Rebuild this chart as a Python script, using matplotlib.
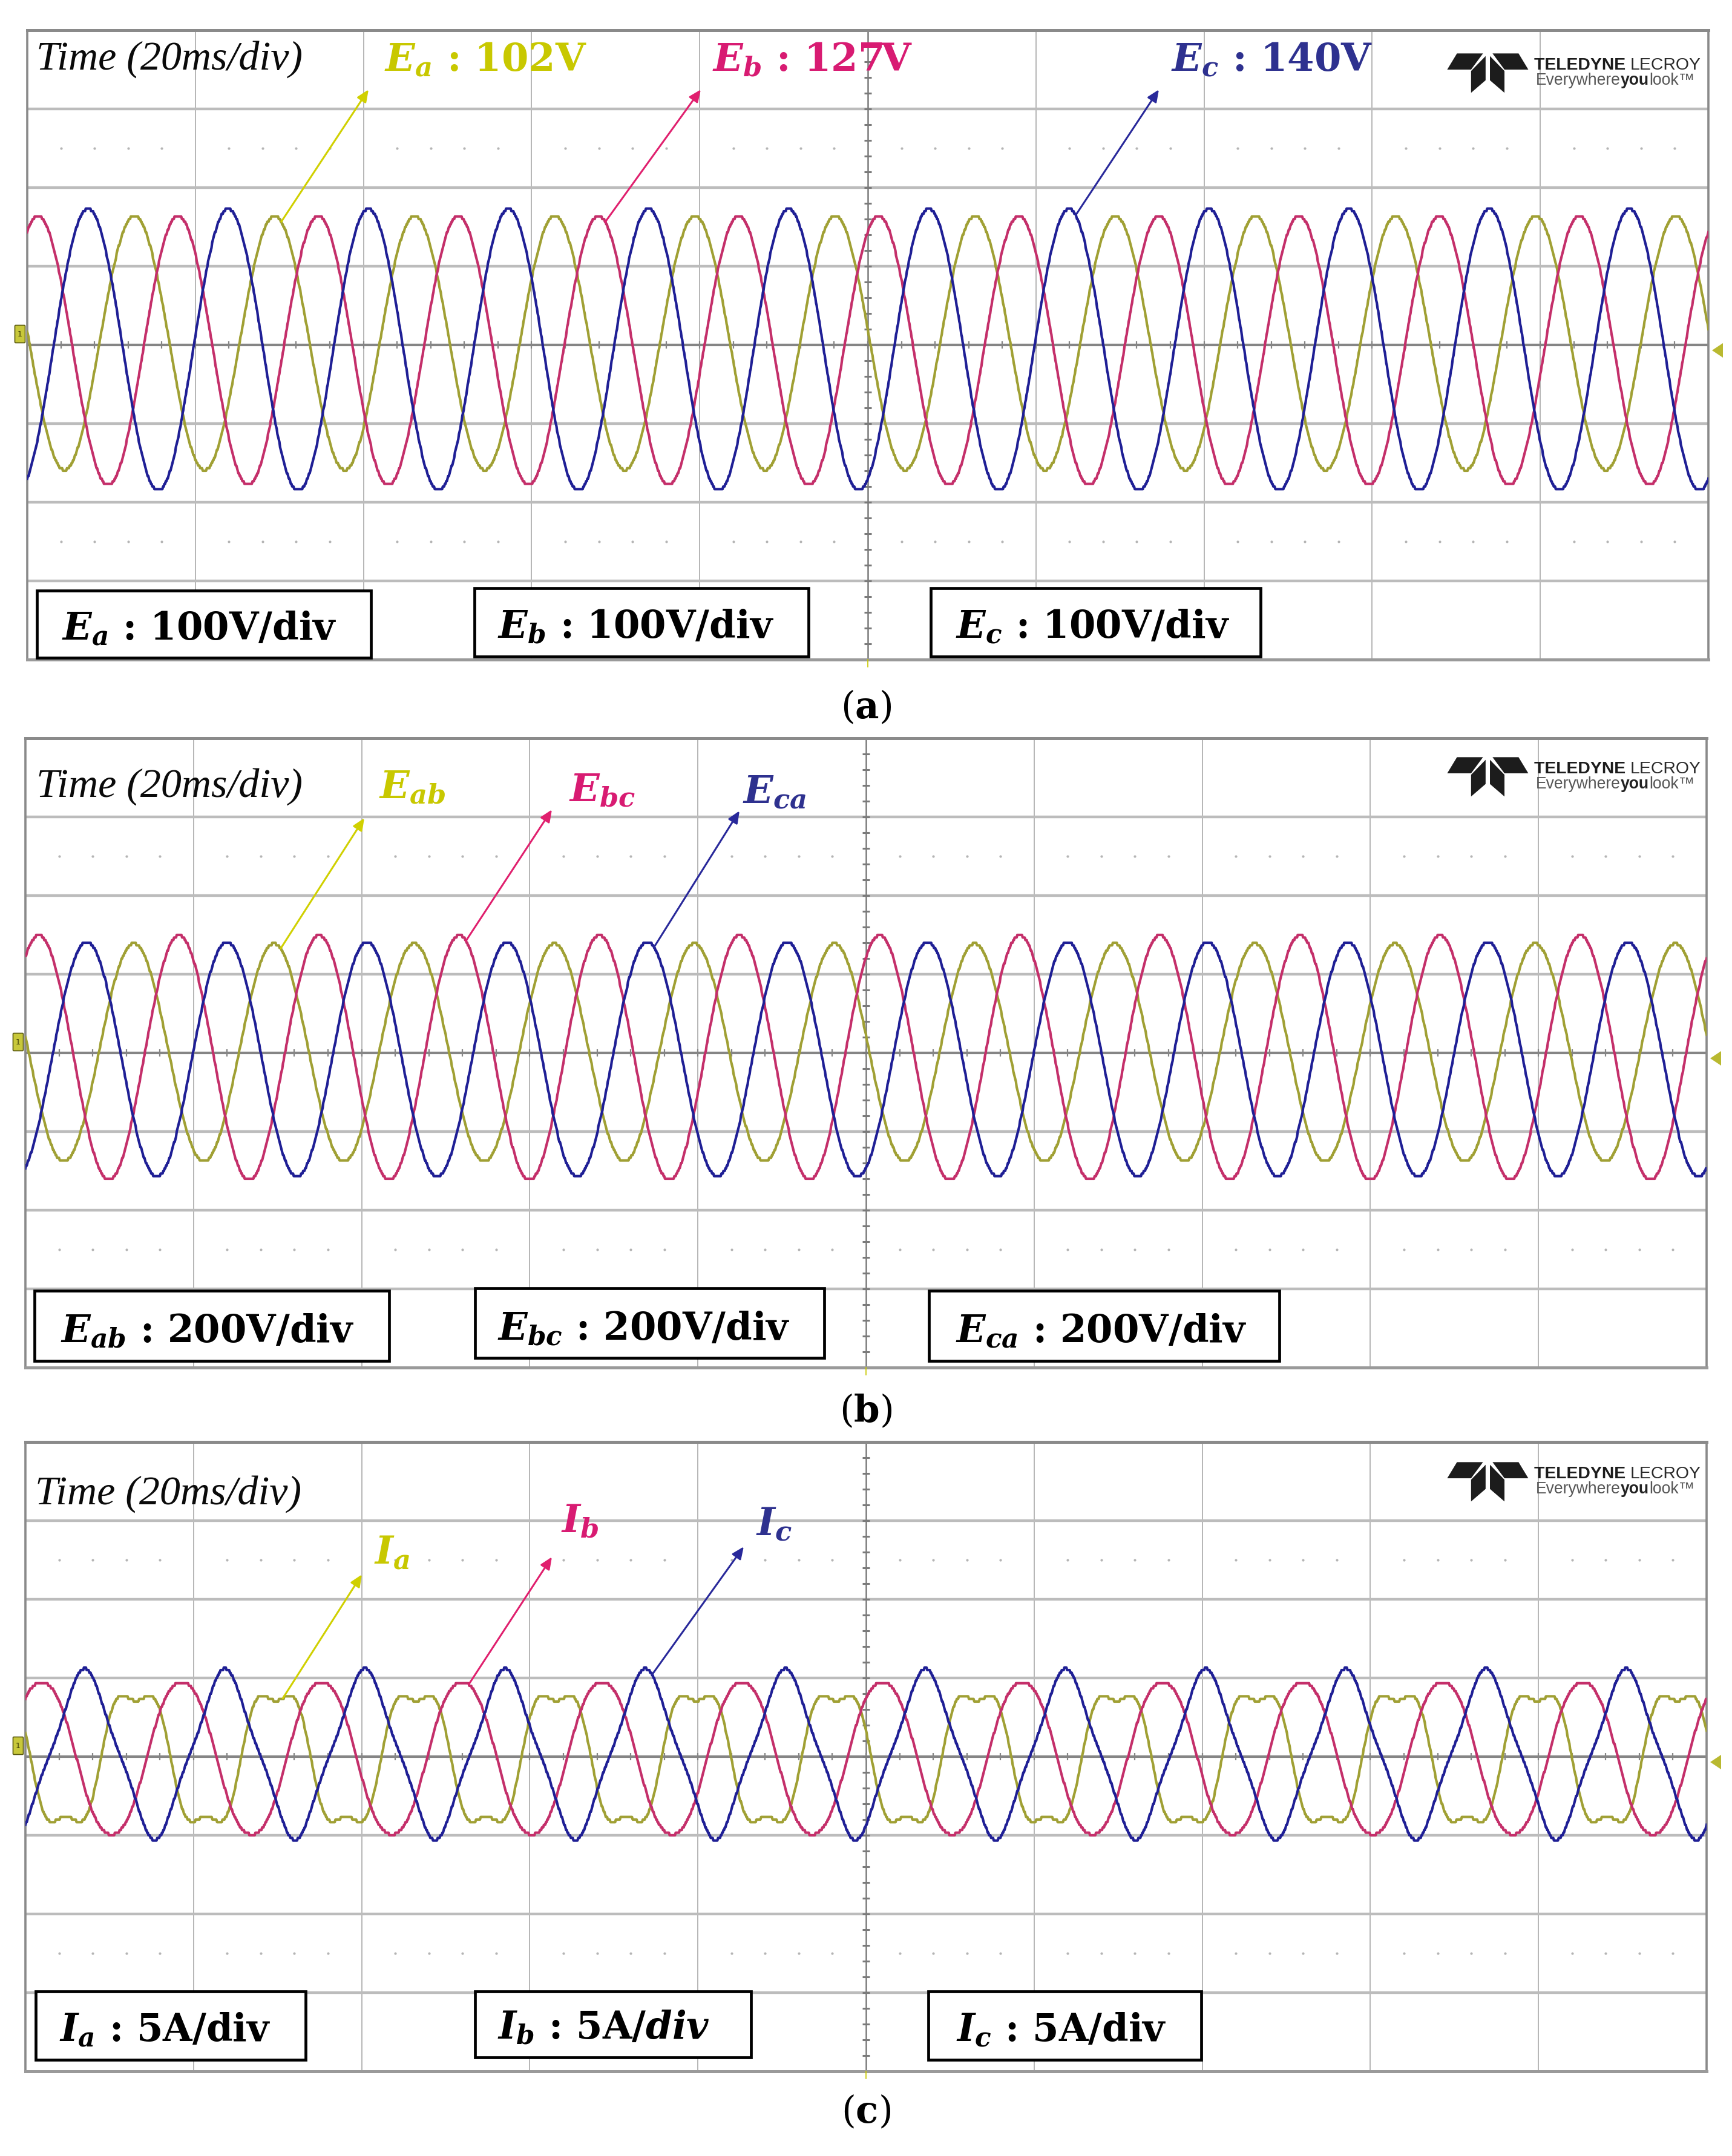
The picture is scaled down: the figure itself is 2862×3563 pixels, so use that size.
import numpy as np
import matplotlib
matplotlib.use('Agg')
import matplotlib.pyplot as plt
from matplotlib.patches import Rectangle, Polygon, FancyBboxPatch
from matplotlib import font_manager

## canvas
W, H, DPI = 2862, 3563, 100

plt.rcParams['mathtext.fontset'] = 'custom'
plt.rcParams['mathtext.it'] = 'DejaVu Serif:italic:bold'
plt.rcParams['mathtext.rm'] = 'DejaVu Serif:bold'
plt.rcParams['mathtext.bf'] = 'DejaVu Serif:bold'

## scope settings (all values in screen divisions, 10 x 8 divisions)
time_label = 'Time (20ms/div)'
period_div = 0.8335          # one mains cycle = 16.7 ms at 20 ms/div

## (a) phase voltages
a_names = ['E_a', 'E_b', 'E_c']
a_values = ['102V', '127V', '140V']
a_scales = ['100V/div', '100V/div', '100V/div']
a_peak = [0.638, 0.064, 0.362]      # first positive peak
a_amp = [1.615, 1.71, 1.79]
a_offset = [0.025, -0.07, -0.06]
a_h3 = [0.0, 0.0, 0.0]              # 3rd harmonic ratio
a_arrow_cycle = [1, 4, 7]

## (b) line voltages
b_names = ['E_{ab}', 'E_{bc}', 'E_{ca}']
b_values = ['', '', '']
b_scales = ['200V/div', '200V/div', '200V/div']
b_peak = [0.645, 0.080, 0.365]
b_amp = [1.385, 1.555, 1.49]
b_offset = [0.005, -0.06, -0.08]
b_h3 = [0.0, 0.0, 0.0]
b_arrow_cycle = [1, 3, 4]

## (c) line currents
c_names = ['I_a', 'I_b', 'I_c']
c_values = ['', '', '']
c_scales = ['5A/div', '5A/$div$', '5A/div']
c_peak = [0.657, 0.096, 0.353]
c_amp = [0.92, 1.0, 1.0]
c_offset = [-0.025, -0.02, 0.03]
c_h3 = [0.20, 0.03, -0.09]
c_arrow_cycle = [1, 3, 4]

captions = ['a', 'b', 'c']

## colours: yellow / magenta / blue channels
trace_colors = ['#a0a034', '#c42f6a', '#1f1f95']
label_colors = ['#c8c800', '#d81b72', '#2e318f']
arrow_colors = ['#d0d000', '#e0206e', '#28289a']

## layout (pixels)
screens = [(45, 50), (42, 1220), (42, 2383)]
screen_w, screen_h = 2778, 1040
caption_y = [1170, 2333, 3491]
time_xy = [(60, 115), (60, 1317), (58, 2486)]
label_xy = [[(635, 118), (1177, 118), (1935, 118)],
            [(626, 1320), (940, 1325), (1227, 1328)],
            [(618, 2585), (927, 2533), (1249, 2538)]]
head_xy = [[(609, 148), (1158, 148), (1915, 148)],
           [(602, 1352), (912, 1338), (1222, 1340)],
           [(598, 2602), (912, 2573), (1229, 2556)]]
boxes = [[(61, 976, 613, 1087), (784, 972, 1336, 1085), (1538, 972, 2083, 1085)],
         [(57, 2133, 643, 2249), (785, 2129, 1362, 2244), (1535, 2133, 2114, 2249)],
         [(59, 3291, 505, 3404), (785, 3291, 1241, 3400), (1534, 3291, 1985, 3404)]]
box_text_x = [[102, 822, 1579], [100, 822, 1579], [98, 822, 1580]]
box_base = [[1058, 1055, 1055], [2219, 2215, 2219], [3374, 3370, 3374]]
logo_top = [87, 1250, 2415]

panels = [
    (a_names, a_values, a_scales, a_peak, a_amp, a_offset, a_h3, a_arrow_cycle),
    (b_names, b_values, b_scales, b_peak, b_amp, b_offset, b_h3, b_arrow_cycle),
    (c_names, c_values, c_scales, c_peak, c_amp, c_offset, c_h3, c_arrow_cycle),
]


def wave(t, peak, amp, off, h3):
    th = 2 * np.pi * (t - peak) / period_div + np.pi / 2
    return off + amp * (np.sin(th) + h3 * np.sin(3 * th))


def draw_screen(ax):
    ax.set_xlim(0, 10)
    ax.set_ylim(-4, 4)
    ax.axis('off')
    for x in range(1, 10):
        if x != 5:
            ax.plot([x, x], [-4, 4], color='#a9a9a9', lw=1.2, zorder=1)
    for y in (-3, -2, -1, 1, 2, 3):
        ax.plot([0, 10], [y, y], color='#bcbcbc', lw=3.2, zorder=1)
    ax.plot([5, 5], [-4, 4], color='#7a7a7a', lw=1.8, zorder=1.5)
    ax.plot([0, 10], [0, 0], color='#858585', lw=3.0, zorder=1.5)
    minor = np.arange(0, 10.001, 0.2)
    ax.vlines(minor, -0.045, 0.045, color='#858585', lw=1.6, zorder=1.5)
    ymin = np.arange(-4, 4.001, 0.2)
    ax.hlines(ymin, 5 - 0.02, 5 + 0.02, color='#7a7a7a', lw=2.2, zorder=1.5)
    dots = np.array([v for v in minor if abs(v - round(v)) > 1e-6])
    for yy in (2.5, -2.5):
        ax.plot(dots, np.full_like(dots, yy), ls='none', marker='o', ms=2.0,
                color='#b4b4b4', zorder=1)
    ax.add_patch(Rectangle((0, -4), 10, 8, fill=False, ec='#8a8a8a', lw=2.6,
                           clip_on=False, zorder=2))
    ax.plot([0, 10], [4, 4], color='#8a8a8a', lw=3.6, clip_on=False, zorder=2)
    ax.plot([0, 10], [-4, -4], color='#9a9a9a', lw=3.6, clip_on=False, zorder=2)


fig = plt.figure(figsize=(W / DPI, H / DPI), dpi=DPI)
fig.patch.set_facecolor('white')

ov = fig.add_axes([0, 0, 1, 1])
ov.set_xlim(0, W)
ov.set_ylim(H, 0)
ov.axis('off')
ov.set_zorder(5)
ov.patch.set_alpha(0)

names_all = {f.name for f in font_manager.fontManager.ttflist}
logo_font = 'Liberation Sans Narrow' if 'Liberation Sans Narrow' in names_all else 'Liberation Sans'

bird = [
    [(255, 345), (300, 265), (420, 265), (365, 345)],
    [(629, 345), (584, 265), (464, 265), (519, 345)],
    [(365, 352), (432, 278), (432, 398), (365, 460)],
    [(519, 352), (452, 278), (452, 398), (519, 460)],
]

t = np.linspace(0, 10, 2501)
logo_runs = []

for p, (names, values, scales, peaks, amps, offs, h3s, cycles) in enumerate(panels):
    left, top = screens[p]
    ax = fig.add_axes([left / W, 1 - (top + screen_h) / H, screen_w / W, screen_h / H])
    draw_screen(ax)

    # traces
    for i in range(3):
        y = wave(t, peaks[i], amps[i], offs[i], h3s[i])
        y = np.round(y * 30) / 30
        ax.plot(t, y, color=trace_colors[i], lw=3.0, zorder=3 + i)

    # labels + arrows
    for i in range(3):
        lx, ly = label_xy[p][i]
        s = '$' + names[i] + '$'
        if values[i]:
            s += ' : ' + values[i]
        ov.text(lx, ly, s, color=label_colors[i], fontsize=46, family='DejaVu Serif',
                fontweight='bold', ha='left', va='baseline')
        tt = peaks[i] + cycles[i] * period_div + 0.04
        yy = wave(tt, peaks[i], amps[i], offs[i], h3s[i])
        ov.annotate('', xy=head_xy[p][i], xycoords='data', xytext=(tt, yy),
                    textcoords=ax.transData,
                    arrowprops=dict(arrowstyle='-|>,head_length=0.8,head_width=0.35',
                                    color=arrow_colors[i], lw=2.2, shrinkA=0, shrinkB=0,
                                    mutation_scale=15))

    # scale boxes
    for i in range(3):
        x0, y0, x1, y1 = boxes[p][i]
        ov.add_patch(Rectangle((x0, y0), x1 - x0, y1 - y0, fc='white', ec='black', lw=3.4))
        ov.text(box_text_x[p][i], box_base[p][i], '$' + names[i] + '$ : ' + scales[i],
                color='black', fontsize=45, family='DejaVu Serif', fontweight='bold',
                ha='left', va='baseline')

    # time base text
    ov.text(time_xy[p][0], time_xy[p][1], time_label, fontsize=49, family='Liberation Serif',
            style='italic', color='#0a0a0a', ha='left', va='baseline')

    # ground marker, level marker, trigger tick
    cy = top + screen_h / 2
    ov.add_patch(FancyBboxPatch((left - 19, cy - 31), 14, 26, boxstyle='round,pad=1.5',
                                fc='#c8c83a', ec='#5a5a10', lw=1.2))
    ov.text(left - 12, cy - 18, '1', fontsize=9, ha='center', va='center', color='#333300')
    right = left + screen_w
    ov.add_patch(Polygon([(right + 24, cy - 3), (right + 24, cy + 21), (right + 6, cy + 9)],
                         closed=True, fc='#b9b930', ec='none'))
    ov.plot([left + screen_w / 2] * 2, [top + screen_h, top + screen_h + 12],
            color='#c8c800', lw=1.2)

    # logo
    dy = logo_top[p] - 87
    for poly in bird:
        pts = [(2300 + u / 2.79, v / 3.0 + dy) for u, v in poly]
        ov.add_patch(Polygon(pts, closed=True, fc='#1c1c1c', ec='none'))
    r1 = [ov.text(2535, 115 + dy, 'TELEDYNE ', fontsize=26, family=logo_font,
                  fontweight='bold', color='#1c1c1c', va='baseline'),
          ov.text(2535, 115 + dy, 'LECROY', fontsize=26, family=logo_font,
                  color='#2a2a2a', va='baseline')]
    r2 = [ov.text(2538, 140 + dy, 'Everywhere', fontsize=19, family='Liberation Sans',
                  color='#555555', va='baseline'),
          ov.text(2538, 140 + dy, 'you', fontsize=19, family='Liberation Sans',
                  fontweight='bold', color='#222222', va='baseline'),
          ov.text(2538, 140 + dy, 'look\u2122', fontsize=19, family='Liberation Sans',
                  color='#555555', va='baseline')]
    logo_runs.append((r1, 2535, 276))
    logo_runs.append((r2, 2538, 262))

    # caption
    ov.text(1431, caption_y[p], '($\\mathbf{' + captions[p] + '}$)', fontsize=44,
            family='DejaVu Serif', ha='center', va='center', color='black')

# fit logo word runs to their measured widths
fig.canvas.draw()
rend = fig.canvas.get_renderer()
for arts, x0, target in logo_runs:
    widths = [a.get_window_extent(rend).width for a in arts]
    k = target / sum(widths)
    xx = x0
    for a, w in zip(arts, widths):
        a.set_fontsize(a.get_fontsize() * k)
        a.set_x(xx)
        xx += w * k

fig.savefig('out.png', dpi=DPI, facecolor='white')
